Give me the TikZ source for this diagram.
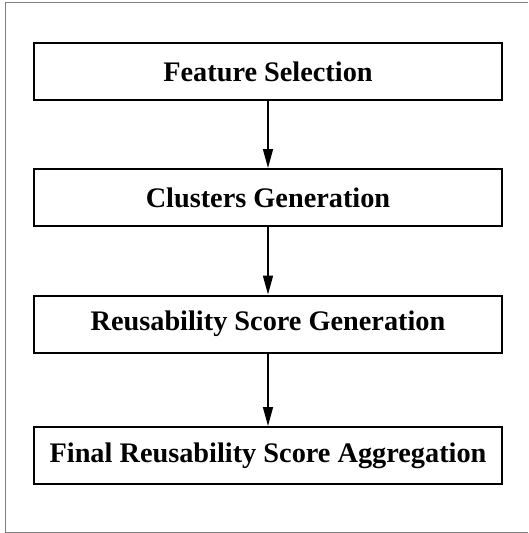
\documentclass[tikz,border=0pt]{standalone}
\usepackage{fontspec}
\setmainfont{Liberation Serif}
\usetikzlibrary{arrows.meta}
\begin{document}
\begin{tikzpicture}[x=1pt,y=-1pt,
  stepbox/.style={draw=black,line width=2pt,minimum width=468pt,minimum height=57pt,inner sep=0pt,
    font=\fontsize{28.3}{31}\selectfont\bfseries},
  flow/.style={line width=1.6pt,-{Triangle[length=19pt,width=10pt]}}]
\useasboundingbox (0,0) rectangle (528,533);
\draw[gray,line width=1pt] (528,2.7) -- (5.5,2.7) -- (5.5,532) -- (528,532);
\node[stepbox] (b1) at (268,71.5) {Feature Selection};
\node[stepbox] (b2) at (268,197.5) {Clusters Generation};
\node[stepbox] (b3) at (268,324) {Reusability Score Generation};
\node[stepbox] (b4) at (268,455.5) {Final Reusability Score Aggregation};
\draw[flow] (b1) -- (b2);
\draw[flow] (b2) -- (b3);
\draw[flow] (b3) -- (b4);
\end{tikzpicture}
\end{document}
